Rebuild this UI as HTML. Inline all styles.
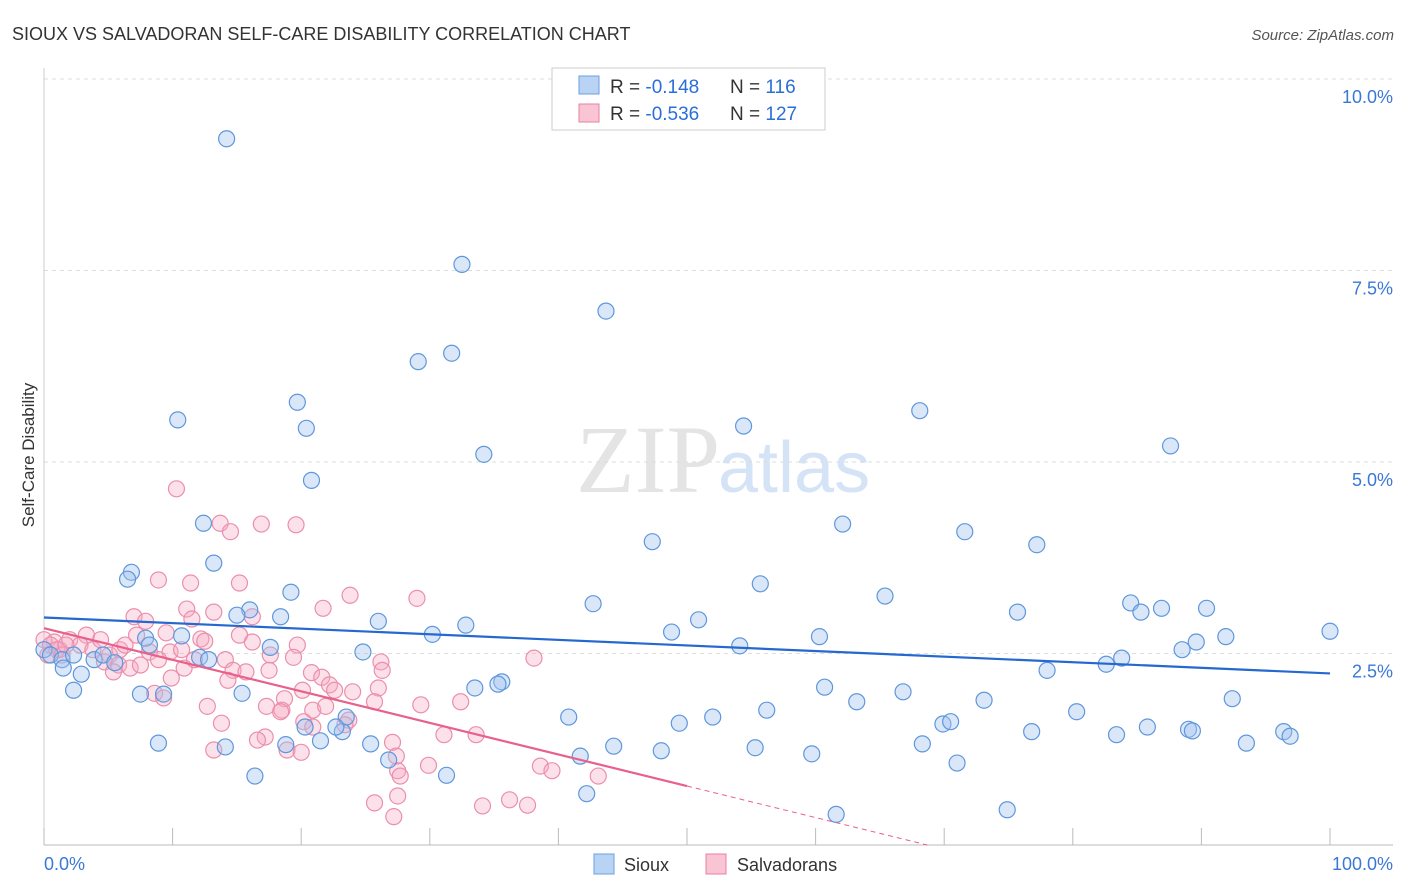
<!DOCTYPE html>
<html><head><meta charset="utf-8"><style>
body{margin:0;background:#fff;font-family:"Liberation Sans",sans-serif;}
svg{display:block}
</style></head><body>
<svg id="chart" width="1406" height="892" viewBox="0 0 1406 892">
<text x="12" y="40" font-size="18" fill="#333">SIOUX VS SALVADORAN SELF-CARE DISABILITY CORRELATION CHART</text>
<text x="1394" y="40" font-size="15" fill="#555" text-anchor="end" font-style="italic">Source: ZipAtlas.com</text>
<text x="720" y="492" font-size="96" fill="#e4e4e4" text-anchor="end" font-family="Liberation Serif, serif">ZIP</text>
<text x="718" y="492" font-size="72" fill="#d4e3f5">atlas</text>
<g id="grid"></g>
<g id="axes"></g>
<text transform="translate(34,455) rotate(-90)" font-size="17" fill="#333" text-anchor="middle">Self-Care Disability</text>
<g id="pts"></g>
<g id="lines"></g>
<g>
<rect x="552" y="68" width="273" height="62" fill="#fff" stroke="#ccc"/>
<rect x="579" y="76" width="20" height="18" fill="#b8d3f3" stroke="#6a9fdf"/>
<rect x="579" y="104" width="20" height="18" fill="#f9c4d4" stroke="#e8829f"/>
<text x="610" y="93" font-size="19" fill="#333">R = <tspan fill="#2a6fd6">-0.148</tspan><tspan x="730">N = </tspan><tspan fill="#2a6fd6">116</tspan></text>
<text x="610" y="120" font-size="19" fill="#333">R = <tspan fill="#2a6fd6">-0.536</tspan><tspan x="730">N = </tspan><tspan fill="#2a6fd6">127</tspan></text>
</g>
<g>
<rect x="594" y="854" width="20" height="20" fill="#b8d3f3" stroke="#6a9fdf"/>
<text x="624" y="871" font-size="18" fill="#333">Sioux</text>
<rect x="706" y="854" width="20" height="20" fill="#f9c4d4" stroke="#e8829f"/>
<text x="737" y="871" font-size="18" fill="#333">Salvadorans</text>
</g>
</svg>
<script>
const xTicks=[0,10,20,30,40,50,60,70,80,90,100];
const yTicks=[2.5,5,7.5,10];
const yTickLabels=["2.5%","5.0%","7.5%","10.0%"];
const siouxX=[14.2,32.5,43.7,29.1,31.7,19.7,10.4,20.4,34.2,54.4,68.1,87.6,20.8,12.4,47.3,62.1,71.6,77.2,13.2,6.8,6.5,55.7,19.2,65.4,42.7,84.5,86.9,90.4,85.3,75.7,16.0,15.0,18.4,26.0,50.9,32.8,30.2,48.8,60.3,100,91.9,89.6,10.7,7.9,54.1,17.6,8.2,88.5,24.8,83.8,82.6,78.0,0,0.5,1.4,2.3,3.9,4.6,5.5,12.1,12.8,1.5,2.9,2.3,7.5,9.3,15.4,35.6,35.3,33.5,60.7,66.8,63.2,73.1,92.4,56.2,80.3,40.8,52.0,49.4,69.9,70.5,85.8,89.0,89.3,76.8,83.4,96.4,96.9,93.5,23.2,21.5,14.1,8.9,25.4,18.8,44.3,48.0,55.3,68.3,41.7,59.7,26.8,71.0,16.4,31.3,42.2,61.6,74.9,23.5,20.3,22.7];
const siouxY=[9.22,7.58,6.97,6.31,6.42,5.78,5.55,5.44,5.10,5.47,5.67,5.21,4.76,4.20,3.96,4.19,4.09,3.92,3.68,3.56,3.47,3.41,3.30,3.25,3.15,3.16,3.09,3.09,3.04,3.04,3.07,3.00,2.98,2.92,2.94,2.87,2.75,2.78,2.72,2.79,2.72,2.65,2.73,2.70,2.60,2.58,2.61,2.55,2.52,2.44,2.36,2.28,2.55,2.48,2.42,2.48,2.42,2.48,2.38,2.45,2.42,2.31,2.23,2.02,1.97,1.97,1.98,2.13,2.10,2.05,2.06,2.00,1.87,1.89,1.91,1.76,1.74,1.67,1.67,1.59,1.58,1.61,1.54,1.51,1.49,1.48,1.44,1.48,1.42,1.33,1.48,1.36,1.28,1.33,1.32,1.31,1.29,1.23,1.27,1.32,1.16,1.19,1.11,1.07,0.90,0.91,0.67,0.40,0.46,1.67,1.54,1.54];
const salvX=[10.3,13.7,14.5,16.9,19.6,8.9,11.4,15.2,23.8,29.0,21.7,11.1,13.2,7.0,7.9,11.5,16.2,9.5,15.2,3.3,12.2,12.5,16.2,19.7,0.8,1.2,2.0,2.8,3.8,5.1,5.9,8.2,9.8,10.7,4.7,5.8,6.7,7.5,8.9,10.9,11.7,14.1,17.6,19.4,14.7,15.7,17.5,9.9,14.3,20.8,21.6,20.1,22.2,22.6,26.2,26.3,26.0,24.0,38.1,8.6,9.3,18.7,25.7,32.4,29.3,12.7,18.5,20.9,21.9,17.3,18.4,20.2,20.9,13.8,23.7,23.4,17.2,16.6,31.1,33.6,13.2,18.9,20.0,27.1,27.4,38.6,39.5,27.5,27.7,29.9,43.1,36.2,27.5,25.7,34.1,37.6,27.2,0,0.3,0.5,1.0,1.4,1.7,4.4,6.3,7.2,5.4];
const salvY=[4.65,4.20,4.09,4.19,4.18,3.46,3.42,3.42,3.26,3.22,3.09,3.08,3.04,2.98,2.92,2.95,2.98,2.77,2.74,2.74,2.69,2.66,2.65,2.61,2.65,2.55,2.68,2.61,2.55,2.48,2.55,2.52,2.52,2.55,2.39,2.35,2.31,2.35,2.42,2.31,2.42,2.42,2.48,2.45,2.28,2.26,2.28,2.18,2.15,2.25,2.19,2.02,2.09,2.02,2.39,2.28,2.05,2.00,2.44,1.98,1.92,1.91,1.87,1.87,1.83,1.81,1.76,1.76,1.81,1.81,1.74,1.61,1.54,1.59,1.63,1.57,1.41,1.37,1.44,1.44,1.24,1.24,1.21,1.34,1.16,1.03,0.97,0.97,0.90,1.04,0.90,0.59,0.64,0.55,0.51,0.52,0.37,2.68,2.48,2.61,2.55,2.48,2.61,2.68,2.61,2.74,2.26];
const siouxTrend=[2.97,2.24];   // y at x=0 and x=100
const salvTrend=[2.83,0.77,50]; // y at 0, y at end of solid, end x
const NS='http://www.w3.org/2000/svg';
const X=v=>44+v*12.86, Y=v=>845-v*76.6;
function mk(tag,attrs,parent){const e=document.createElementNS(NS,tag);for(const k in attrs)e.setAttribute(k,attrs[k]);parent.appendChild(e);return e;}
const grid=document.getElementById('grid'),axes=document.getElementById('axes');
yTicks.forEach((t,i)=>{
 const l=mk('line',{x1:44,x2:1393,y1:Y(t),y2:Y(t),stroke:'#ddd','stroke-dasharray':'4,4'},grid);
 
 
 const tx=mk('text',{x:1393,y:Y(t)+24,'font-size':18,fill:'#3a78d6','text-anchor':'end'},axes);
 tx.textContent=yTickLabels[i];
 
 
});
const ax=mk('line',{x1:44,x2:1393,y1:845,y2:845,stroke:'#bbb'},axes);


const ay=mk('line',{x1:44,x2:44,y1:68,y2:845,stroke:'#ccc'},axes);


xTicks.forEach(t=>{
 const l=mk('line',{x1:X(t),x2:X(t),y1:828,y2:845,stroke:'#bbb'},axes);
 
 
});
const xl0=mk('text',{x:44,y:870,'font-size':18,fill:'#3a78d6'},axes);xl0.textContent='0.0%';


const xl1=mk('text',{x:1393,y:870,'font-size':18,fill:'#3a78d6','text-anchor':'end'},axes);xl1.textContent='100.0%';


const pts=document.getElementById('pts');
salvX.forEach((x,i)=>{const c=mk('circle',{cx:X(x),cy:Y(salvY[i]),r:8,fill:'rgba(245,170,195,0.35)',stroke:'#eb8fab','stroke-width':1.2},pts);
 
 });
siouxX.forEach((x,i)=>{const c=mk('circle',{cx:X(x),cy:Y(siouxY[i]),r:8,fill:'rgba(160,195,240,0.4)',stroke:'#5f97dc','stroke-width':1.2},pts);
 
 });
const lines=document.getElementById('lines');
const bl=mk('line',{x1:X(0),y1:Y(siouxTrend[0]),x2:X(100),y2:Y(siouxTrend[1]),stroke:'#2468d0','stroke-width':2.2},lines);


const pl=mk('line',{x1:X(0),y1:Y(salvTrend[0]),x2:X(salvTrend[2]),y2:Y(salvTrend[1]),stroke:'#e8608c','stroke-width':2.2},lines);


const slope=(salvTrend[1]-salvTrend[0])/salvTrend[2];
const xEnd=-salvTrend[0]/slope;
const pd=mk('line',{x1:X(salvTrend[2]),y1:Y(salvTrend[1]),x2:X(xEnd),y2:Y(0),stroke:'#e8608c','stroke-width':1,'stroke-dasharray':'5,4'},lines);


</script>
</body></html>
